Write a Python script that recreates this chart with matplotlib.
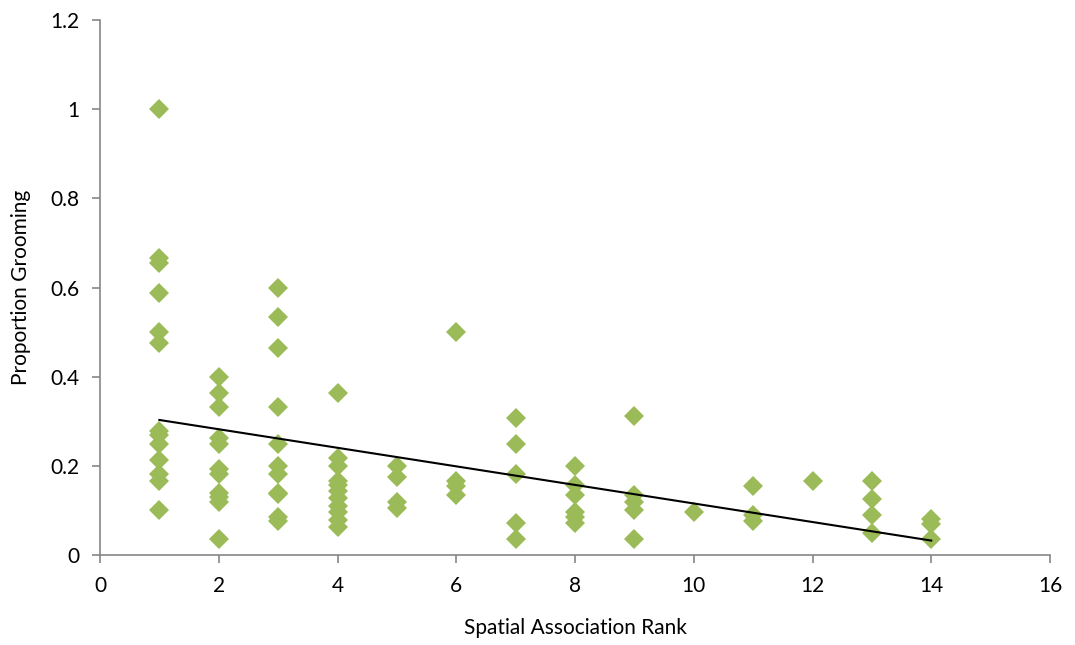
import numpy as np
import matplotlib
matplotlib.use("Agg")
import matplotlib.pyplot as plt

plt.rcParams['font.family'] = ['Lato', 'DejaVu Sans']

rank_1 = [1.0, 0.667, 0.655, 0.588, 0.5, 0.476, 0.278, 0.269, 0.25, 0.214, 0.182, 0.167, 0.1]
rank_2 = [0.4, 0.364, 0.333, 0.262, 0.25, 0.194, 0.182, 0.138, 0.13, 0.12, 0.037]
rank_3 = [0.6, 0.533, 0.465, 0.333, 0.25, 0.2, 0.181, 0.14, 0.136, 0.086, 0.076]
rank_4 = [0.364, 0.217, 0.2, 0.167, 0.157, 0.143, 0.127, 0.111, 0.097, 0.078, 0.063]
rank_5 = [0.2, 0.174, 0.12, 0.105]
rank_6 = [0.5, 0.167, 0.154, 0.135]
rank_7 = [0.308, 0.25, 0.182, 0.071, 0.036]
rank_8 = [0.2, 0.157, 0.135, 0.097, 0.086, 0.072]
rank_9 = [0.312, 0.135, 0.12, 0.1, 0.036]
rank_10 = [0.097]
rank_11 = [0.154, 0.09, 0.077]
rank_12 = [0.167]
rank_13 = [0.167, 0.125, 0.09, 0.049]
rank_14 = [0.08, 0.07, 0.035]

groups = [rank_1, rank_2, rank_3, rank_4, rank_5, rank_6, rank_7,
          rank_8, rank_9, rank_10, rank_11, rank_12, rank_13, rank_14]
ranks = list(range(1, 15))

x_ticks = [0, 2, 4, 6, 8, 10, 12, 14, 16]
y_ticks = [0, 0.2, 0.4, 0.6, 0.8, 1.0, 1.2]
y_tick_labels = ['0', '0.2', '0.4', '0.6', '0.8', '1', '1.2']

xs = np.concatenate([[r] * len(g) for r, g in zip(ranks, groups)])
ys = np.concatenate([g for g in groups])

fig = plt.figure(figsize=(10.75, 6.45), dpi=100)
ax = fig.add_axes([100/1075, 90/645, 950/1075, 535/645])

ax.plot(xs, ys, linestyle='none', marker='D', markersize=10.5,
        color='#9BBB59', markeredgewidth=0, zorder=2)

slope, intercept = np.polyfit(xs, ys, 1)
tx = np.array([min(ranks), max(ranks)])
ax.plot(tx, slope * tx + intercept, color='black', linewidth=1.5, zorder=3)

ax.set_xlim(0, 16)
ax.set_ylim(0, 1.2)
ax.set_xticks(x_ticks)
ax.set_yticks(y_ticks)
ax.set_yticklabels(y_tick_labels)

for s in ['top', 'right']:
    ax.spines[s].set_visible(False)
for s in ['left', 'bottom']:
    ax.spines[s].set_color('#868686')
    ax.spines[s].set_linewidth(1.2)
ax.tick_params(axis='both', direction='out', length=6, width=1.2,
               color='#868686', labelsize=15, labelcolor='black', pad=9)

ax.set_xlabel('Spatial Association Rank', fontsize=15, labelpad=16)
ax.set_ylabel('Proportion Grooming', fontsize=15, labelpad=14)

fig.savefig('out.png', dpi=100)
